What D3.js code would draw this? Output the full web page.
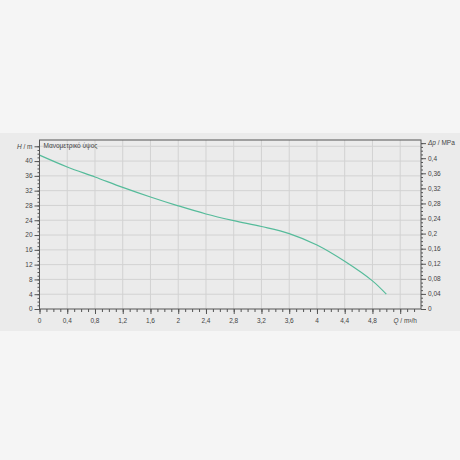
<!DOCTYPE html>
<html>
<head>
<meta charset="utf-8">
<script src="https://cdn.jsdelivr.net/npm/d3@7"></script>
<style>
  body { margin: 0; background: #f5f5f5; }
  svg { display: block; }
  text { font-family: "Liberation Sans", Arial, sans-serif; fill: #444; }
</style>
</head>
<body>
<div id="chart"></div>
<script>
// pump curve
var flow = [0, 0.4, 0.8, 1.2, 1.6, 2.0, 2.4, 2.8, 3.2, 3.6, 4.0, 4.4, 4.8, 5.0];
var head = [41.6, 38.4, 35.7, 32.9, 30.3, 27.9, 25.7, 23.9, 22.3, 20.4, 17.3, 12.9, 7.6, 4.0];
var xTicks = [0, 0.4, 0.8, 1.2, 1.6, 2, 2.4, 2.8, 3.2, 3.6, 4, 4.4, 4.8];
var yTicks = [0, 4, 8, 12, 16, 20, 24, 28, 32, 36, 40];
var pTicks = [0, 0.04, 0.08, 0.12, 0.16, 0.2, 0.24, 0.28, 0.32, 0.36, 0.4];

var width = 460, height = 460;
var plotLeft = 39.5, plotRight = 421, plotTop = 140, plotBottom = 309;

var x = d3.scaleLinear().domain([0, 5.5]).range([plotLeft, plotRight]);
var y = d3.scaleLinear().domain([0, 45.7]).range([plotBottom, plotTop]);
// MPa axis, 1 m of water = 0.00981 MPa
var yp = d3.scaleLinear().domain([0, 45.7 * 0.00981]).range([plotBottom, plotTop]);

var fmt = function(d) { return String(+d.toFixed(2)).replace(".", ","); };

var svg = d3.select("#chart").append("svg")
  .attr("width", width)
  .attr("height", height);

svg.append("rect")
  .attr("x", 0).attr("y", 133)
  .attr("width", width).attr("height", 198)
  .attr("fill", "#ebebeb");

// grid
svg.append("g")
  .selectAll("line")
  .data(d3.range(0.4, 5.5, 0.4))
  .enter().append("line")
  .attr("x1", function(d) { return x(d); })
  .attr("x2", function(d) { return x(d); })
  .attr("y1", plotTop).attr("y2", plotBottom)
  .attr("stroke", "#d2d2d2");

svg.append("g")
  .selectAll("line")
  .data(d3.range(4, 45, 4))
  .enter().append("line")
  .attr("y1", function(d) { return y(d); })
  .attr("y2", function(d) { return y(d); })
  .attr("x1", plotLeft).attr("x2", plotRight)
  .attr("stroke", "#d2d2d2");

// curve
var line = d3.line()
  .x(function(d) { return x(d[0]); })
  .y(function(d) { return y(d[1]); })
  .curve(d3.curveCatmullRom);

svg.append("path")
  .datum(d3.zip(flow, head))
  .attr("d", line)
  .attr("fill", "none")
  .attr("stroke", "#55bb9a")
  .attr("stroke-width", 1.2);

// frame
svg.append("rect")
  .attr("x", plotLeft).attr("y", plotTop)
  .attr("width", plotRight - plotLeft).attr("height", plotBottom - plotTop)
  .attr("fill", "none")
  .attr("stroke", "#555")
  .attr("stroke-width", 1);

// bottom axis
var xAxis = svg.append("g")
  .attr("transform", "translate(0," + plotBottom + ")")
  .call(d3.axisBottom(x).tickValues(d3.range(0, 5.5, 0.1)).tickSize(3).tickFormat(""));
xAxis.append("g")
  .call(d3.axisBottom(x).tickValues(d3.range(0, 5.3, 0.4)).tickSize(5).tickFormat(""));
xAxis.selectAll("path.domain").remove();
xAxis.selectAll("line").attr("stroke", "#555");

svg.append("g")
  .selectAll("text")
  .data(xTicks)
  .enter().append("text")
  .attr("x", function(d) { return x(d); })
  .attr("y", plotBottom + 14)
  .attr("text-anchor", "middle")
  .attr("font-size", 6.5)
  .text(fmt);

var qLabel = svg.append("text")
  .attr("x", x(5.2) + 5).attr("y", plotBottom + 14)
  .attr("text-anchor", "middle")
  .attr("font-size", 6.5);
qLabel.append("tspan").attr("font-style", "italic").text("Q");
qLabel.append("tspan").text(" / m³/h");

// left axis
var yAxis = svg.append("g")
  .attr("transform", "translate(" + plotLeft + ",0)")
  .call(d3.axisLeft(y).tickValues(d3.range(0, 45, 1)).tickSize(2).tickFormat(""));
yAxis.append("g")
  .call(d3.axisLeft(y).tickValues(d3.range(0, 45, 4)).tickSize(5).tickFormat(""));
yAxis.selectAll("path.domain").remove();
yAxis.selectAll("line").attr("stroke", "#555");

svg.append("g")
  .selectAll("text")
  .data(yTicks)
  .enter().append("text")
  .attr("x", plotLeft - 7)
  .attr("y", function(d) { return y(d) + 2.3; })
  .attr("text-anchor", "end")
  .attr("font-size", 6.5)
  .text(fmt);

var hLabel = svg.append("text")
  .attr("x", plotLeft - 7).attr("y", y(44) + 2.3)
  .attr("text-anchor", "end")
  .attr("font-size", 6.5);
hLabel.append("tspan").attr("font-style", "italic").text("H");
hLabel.append("tspan").text(" / m");

// right axis
var pAxis = svg.append("g")
  .attr("transform", "translate(" + plotRight + ",0)")
  .call(d3.axisRight(yp).tickValues(d3.range(0, 0.445, 0.01)).tickSize(2).tickFormat(""));
pAxis.append("g")
  .call(d3.axisRight(yp).tickValues(d3.range(0, 0.445, 0.04)).tickSize(5).tickFormat(""));
pAxis.selectAll("path.domain").remove();
pAxis.selectAll("line").attr("stroke", "#555");

svg.append("g")
  .selectAll("text")
  .data(pTicks)
  .enter().append("text")
  .attr("x", plotRight + 7)
  .attr("y", function(d) { return yp(d) + 2.3; })
  .attr("font-size", 6.5)
  .text(fmt);

var pLabel = svg.append("text")
  .attr("x", plotRight + 7).attr("y", yp(0.44) + 2.3)
  .attr("font-size", 6.5);
pLabel.append("tspan").attr("font-style", "italic").text("Δp");
pLabel.append("tspan").text(" / MPa");

// title inside plot
svg.append("text")
  .attr("x", plotLeft + 4).attr("y", plotTop + 8)
  .attr("font-size", 6.5)
  .text("Μανομετρικό ύψος");
</script>
</body>
</html>
